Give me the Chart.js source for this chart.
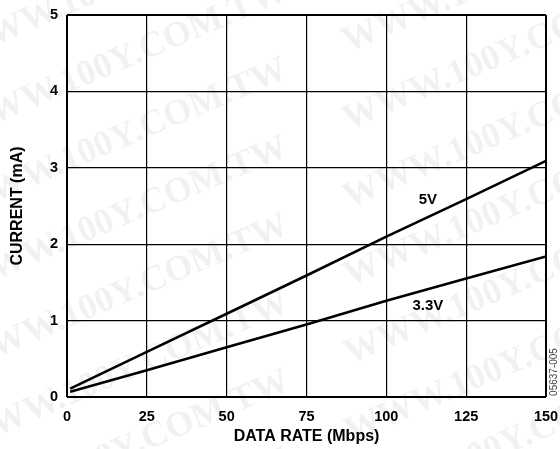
<!DOCTYPE html>
<html>
<head>
<meta charset="utf-8">
<script src="https://cdn.jsdelivr.net/npm/chart.js@4/dist/chart.umd.min.js"></script>
<style>
  html, body { margin: 0; padding: 0; background: #fff; }
  #wrap { width: 560px; height: 449px; }
</style>
</head>
<body>
<div id="wrap"><canvas id="myChart"></canvas></div>
<script>
// data rate (Mbps) and supply current (mA)
const rates = [1, 25, 50, 75, 100, 125, 150];
const current5V = [0.11, 0.59, 1.09, 1.59, 2.10, 2.59, 3.09];
const current33V = [0.07, 0.35, 0.65, 0.95, 1.26, 1.55, 1.84];
const xTicks = [0, 25, 50, 75, 100, 125, 150];
const yTicks = [0, 1, 2, 3, 4, 5];
// curve labels, placed in data coordinates
const curveLabels = ['5V', '3.3V'];
const curveLabelX = [113, 113];
const curveLabelY = [2.58, 1.19];

const FONT = "'Liberation Sans', Arial, sans-serif";

const toPoints = (xs, ys) => xs.map((x, i) => ({ x: x, y: ys[i] }));

const paperPlugin = {
  id: 'paper',
  beforeDraw(chart) {
    const c = chart.ctx;
    c.save();
    c.fillStyle = '#fff';
    c.fillRect(0, 0, chart.width, chart.height);
    // faint watermark
    c.fillStyle = 'rgba(0,0,0,0.055)';
    c.font = "bold 36px 'Liberation Serif', 'DejaVu Serif', serif";
    c.rotate(-23 * Math.PI / 180);
    for (let r = -2; r < 12; r++) {
      for (let k = -2; k < 3; k++) {
        c.fillText('WWW.100Y.COM.TW', k * 420 - r * 30 - 60, r * 72 + 40);
      }
    }
    c.restore();
  },
  afterDraw(chart) {
    const c = chart.ctx;
    const xs = chart.scales.x, ys = chart.scales.y;
    c.save();
    c.fillStyle = '#000';
    c.font = 'bold 15px ' + FONT;
    c.textAlign = 'center';
    c.textBaseline = 'middle';
    curveLabels.forEach((t, i) => {
      c.fillText(t, xs.getPixelForValue(curveLabelX[i]), ys.getPixelForValue(curveLabelY[i]));
    });
    // figure code on right edge
    c.fillStyle = '#444';
    c.font = '10px ' + FONT;
    c.translate(554, 372);
    c.rotate(-Math.PI / 2);
    c.fillText('05637-005', 0, 0);
    c.restore();
  }
};

const edgeWidth = (edges) => (ctx) => (ctx.tick && edges.includes(ctx.tick.value)) ? 2 : 1.2;
const tickFont = { family: FONT, size: 14.5, weight: 'bold' };
const titleFont = { family: FONT, size: 16, weight: 'bold' };

new Chart(document.getElementById('myChart'), {
  type: 'line',
  data: {
    datasets: [
      { label: '5V', data: toPoints(rates, current5V), borderColor: '#000', borderWidth: 2.6, pointRadius: 0, tension: 0, fill: false },
      { label: '3.3V', data: toPoints(rates, current33V), borderColor: '#000', borderWidth: 2.6, pointRadius: 0, tension: 0, fill: false }
    ]
  },
  options: {
    responsive: true,
    maintainAspectRatio: false,
    animation: false,
    layout: { padding: { left: 0, right: 14, top: 15, bottom: 0 } },
    plugins: { legend: { display: false }, tooltip: { enabled: false } },
    scales: {
      x: {
        type: 'linear',
        min: 0,
        max: 150,
        afterFit: (s) => { s.height = 52; s.paddingLeft = 0; s.paddingRight = 14; },
        afterBuildTicks: (s) => { s.ticks = xTicks.map(v => ({ value: v })); },
        grid: { color: '#000', lineWidth: edgeWidth([0, 150]), drawTicks: false },
        border: { display: false },
        ticks: { color: '#000', padding: 11, maxRotation: 0, font: tickFont },
        title: { display: true, text: 'DATA RATE (Mbps)', color: '#000', padding: { top: 0, bottom: 3 }, font: titleFont }
      },
      y: {
        type: 'linear',
        min: 0,
        max: 5,
        afterFit: (s) => { s.width = 67; s.paddingTop = 15; s.paddingBottom = 0; },
        afterBuildTicks: (s) => { s.ticks = yTicks.map(v => ({ value: v })); },
        grid: { color: '#000', lineWidth: edgeWidth([0, 5]), drawTicks: false },
        border: { display: false },
        ticks: { color: '#000', padding: 9, font: tickFont },
        title: { display: true, text: 'CURRENT (mA)', color: '#000', padding: { top: 8, bottom: 0 }, font: titleFont }
      }
    }
  },
  plugins: [paperPlugin]
});
</script>
</body>
</html>
